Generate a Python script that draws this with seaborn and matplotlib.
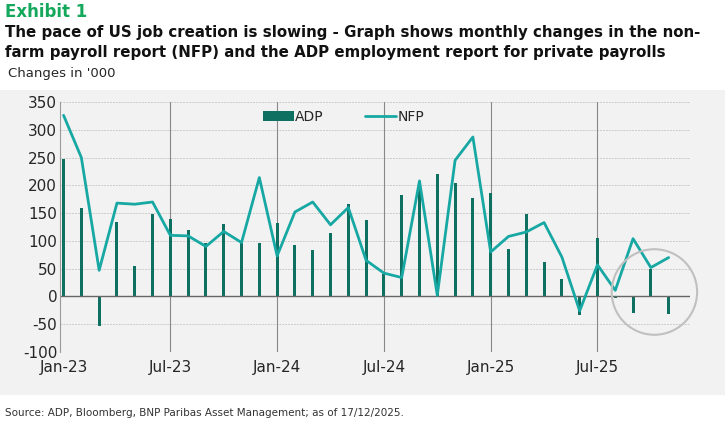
import matplotlib
matplotlib.use("Agg")
import matplotlib.pyplot as plt
import seaborn as sns
import pandas as pd
from matplotlib.patches import Rectangle, Ellipse

months = pd.date_range("2023-01-01", "2025-11-01", freq="MS").strftime("%b-%y").tolist()
adp = [248, 159, -54, 134, 54, 148, 140, 120, 97, 131, 99, 97,
       132, 93, 83, 115, 166, 137, 40, 182, 208, 221, 205, 178,
       187, 86, 149, 62, 31, -33, 105, -3, -29, 49, -32]
nfp = [326, 250, 47, 168, 166, 170, 110, 109, 90, 117, 97, 214,
       73, 152, 170, 129, 160, 65, 42, 34, 208, 2, 245, 287,
       80, 108, 116, 133, 71, -26, 57, 11, 104, 52, 70]
tick_labels = ["Jan-23", "Jul-23", "Jan-24", "Jul-24", "Jan-25", "Jul-25"]

df = pd.DataFrame({"i": range(len(months)), "month": months, "ADP": adp, "NFP": nfp})

sns.set_style("white")
plt.rcParams["font.family"] = ["DejaVu Sans"]
plt.rcParams["axes.unicode_minus"] = False
fig = plt.figure(figsize=(7.25, 4.23), dpi=100)
fig.patches.append(Rectangle((0, 28/423), 1, 1-90/423-28/423, transform=fig.transFigure,
                             facecolor="#f2f2f2", edgecolor="none", zorder=-10))
ax = fig.add_axes([60/725, 1-352/423, 630/725, 250/423])
ax.set_facecolor("#f2f2f2")

sns.barplot(data=df, x="i", y="ADP", color="#0e7060", width=0.17, ax=ax,
            label="ADP", saturation=1, native_scale=True, linewidth=0)
sns.lineplot(data=df, x="i", y="NFP", color="#17a8a4", lw=2, ax=ax, label="NFP")

ax.set_xlim(-0.2, 35.2)
ax.set_ylim(-100, 350)
ax.set_yticks(range(-100, 351, 50))
ax.set_xticks(range(0, 35, 6))
ax.set_xticklabels(tick_labels, fontsize=11)
ax.tick_params(axis="y", labelsize=11, length=0, pad=2)
ax.tick_params(axis="x", length=0, pad=6)
ax.set_xlabel("")
ax.set_ylabel("")
for y in range(-100, 351, 50):
    ax.axhline(y, color="#cccccc", lw=0.7, ls=(0, (2, 1)), zorder=0)
for x in range(6, 35, 6):
    ax.axvline(x, color="#888888", lw=0.8, zorder=0)
ax.axhline(0, color="#666666", lw=1, zorder=1)
for s in ax.spines.values():
    s.set_visible(False)
ax.spines["left"].set_visible(True)
ax.spines["left"].set_color("#999999")

ax.add_patch(Ellipse((33.2, 8), 4.8, 154, fill=False, ec="#c0c0c0", lw=1.5, zorder=5, clip_on=False))

h, l = ax.get_legend_handles_labels()
order = [l.index("ADP"), l.index("NFP")]
ax.legend([h[k] for k in order], [l[k] for k in order], loc="upper center",
          bbox_to_anchor=(0.45, 1.02), ncol=2, frameon=False,
          fontsize=10, handlelength=2.2, columnspacing=3, handletextpad=0.1)

fig.text(5/725, 1-12/423, "Exhibit 1", color="#13a85c", fontsize=12, fontweight="bold", va="center")
fig.text(5/725, 1-33/423, "The pace of US job creation is slowing - Graph shows monthly changes in the non-", fontsize=10.8, fontweight="bold", va="center", color="#111111")
fig.text(5/725, 1-53/423, "farm payroll report (NFP) and the ADP employment report for private payrolls", fontsize=10.8, fontweight="bold", va="center", color="#111111")
fig.text(8/725, 1-73/423, "Changes in '000", fontsize=9.5, va="center")
fig.text(5/725, 1-413/423, "Source: ADP, Bloomberg, BNP Paribas Asset Management; as of 17/12/2025.", fontsize=7.5, va="center", color="#333333")

fig.savefig("out.png", dpi=100)
